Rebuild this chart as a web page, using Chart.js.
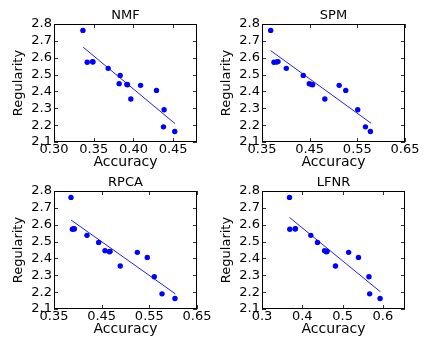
<!DOCTYPE html>
<html><head><meta charset="utf-8">
<script src="https://cdn.jsdelivr.net/npm/chart.js@4.4.0/dist/chart.umd.min.js"></script>
<style>
html,body{margin:0;padding:0;background:#fff;}
body{width:429px;height:346px;position:relative;overflow:hidden;}
.p{position:absolute;width:214px;height:173px;}
canvas{display:block;}
</style></head><body>
<div class="p" style="left:0;top:0"><canvas id="c0" width="214" height="173"></canvas></div>
<div class="p" style="left:208px;top:0"><canvas id="c1" width="214" height="173"></canvas></div>
<div class="p" style="left:0;top:167px"><canvas id="c2" width="214" height="173"></canvas></div>
<div class="p" style="left:208px;top:167px"><canvas id="c3" width="214" height="173"></canvas></div>
<script>
// ---- data ----
const regularity = [2.762, 2.573, 2.575, 2.577, 2.537, 2.495, 2.446, 2.442, 2.440, 2.355, 2.436, 2.406, 2.291, 2.190, 2.162];
const accuracyNMF  = [0.3364, 0.3418, 0.3490, 0.3485, 0.3682, 0.3833, 0.3820, 0.3917, 0.3925, 0.3967, 0.4090, 0.4290, 0.4386, 0.4378, 0.4520];
const accuracySPM  = [0.3682, 0.3751, 0.3808, 0.3835, 0.4010, 0.4366, 0.4492, 0.4533, 0.4561, 0.4818, 0.5119, 0.5257, 0.5508, 0.5670, 0.5774];
const accuracyRPCA = [0.3857, 0.3885, 0.3927, 0.3915, 0.4192, 0.4437, 0.4570, 0.4675, 0.4665, 0.4890, 0.5248, 0.5457, 0.5604, 0.5766, 0.6038];
const accuracyLFNR = [0.3683, 0.3690, 0.3824, 0.3830, 0.4212, 0.4378, 0.4554, 0.4615, 0.4600, 0.4824, 0.5151, 0.5395, 0.5655, 0.5673, 0.5932];

const fitAccNMF  = [0.3368, 0.4524];  const fitRegNMF  = [2.662, 2.209];
const fitAccSPM  = [0.3682, 0.5789];  const fitRegSPM  = [2.642, 2.211];
const fitAccRPCA = [0.3857, 0.6045];  const fitRegRPCA = [2.628, 2.190];
const fitAccLFNR = [0.3683, 0.5940];  const fitRegLFNR = [2.643, 2.202];

const panelTitles = ['NMF', 'SPM', 'RPCA', 'LFNR'];
const yTicks = [2.1, 2.2, 2.3, 2.4, 2.5, 2.6, 2.7, 2.8];
const yTickLabels = ['2.1', '2.2', '2.3', '2.4', '2.5', '2.6', '2.7', '2.8'];
const xTicksNMF = [0.30, 0.35, 0.40, 0.45];  const xTickLabelsNMF = ['0.30', '0.35', '0.40', '0.45'];
const xTicksSPM = [0.35, 0.45, 0.55, 0.65];  const xTickLabelsSPM = ['0.35', '0.45', '0.55', '0.65'];
const xTicksRPCA = [0.35, 0.45, 0.55, 0.65]; const xTickLabelsRPCA = ['0.35', '0.45', '0.55', '0.65'];
const xTicksLFNR = [0.3, 0.4, 0.5, 0.6];     const xTickLabelsLFNR = ['0.3', '0.4', '0.5', '0.6'];
const xRanges = [[0.30, 0.48], [0.35, 0.65], [0.35, 0.65], [0.30, 0.655]];

Chart.defaults.font.family = "'DejaVu Sans', sans-serif";
Chart.defaults.color = '#000';

const framePlugin = {
  id: 'frame',
  afterDraw(chart) {
    const {ctx, chartArea: a, scales} = chart;
    ctx.save();
    ctx.strokeStyle = '#000';
    ctx.lineWidth = 1;
    ctx.strokeRect(a.left + 0.5, a.top + 0.5, a.right - a.left - 1, a.bottom - a.top - 1);
    ctx.lineWidth = 0.8;
    ctx.beginPath();
    scales.x.ticks.forEach(t => {
      const px = Math.round(scales.x.getPixelForValue(t.value)) + 0.5;
      ctx.moveTo(px, a.bottom); ctx.lineTo(px, a.bottom - 4);
      ctx.moveTo(px, a.top); ctx.lineTo(px, a.top + 4);
    });
    scales.y.ticks.forEach(t => {
      const py = Math.round(scales.y.getPixelForValue(t.value)) + 0.5;
      ctx.moveTo(a.left, py); ctx.lineTo(a.left + 4, py);
      ctx.moveTo(a.right, py); ctx.lineTo(a.right - 4, py);
    });
    ctx.stroke();
    ctx.restore();
  }
};

function makePanel(id, title, acc, fitAcc, fitReg, xTicks, xLabels, xRange) {
  const pts = acc.map((v, i) => ({x: v, y: regularity[i]}));
  const fit = fitAcc.map((v, i) => ({x: v, y: fitReg[i]}));
  new Chart(document.getElementById(id), {
    type: 'scatter',
    data: {
      datasets: [
        {data: fit, showLine: true, borderColor: '#2020ff', borderWidth: 1, pointRadius: 0, fill: false, order: 2},
        {data: pts, backgroundColor: '#0000ff', borderWidth: 0, pointRadius: 2.7, order: 1}
      ]
    },
    options: {
      responsive: false,
      animation: false,
      events: [],
      layout: {padding: {left: 0, right: 17, top: 0, bottom: 0}},
      plugins: {
        legend: {display: false},
        tooltip: {enabled: false},
        title: {
          display: true, text: title, fullSize: false, color: '#000',
          font: {size: 13, weight: 'normal', lineHeight: 1},
          padding: {top: 9.5, bottom: 1.5}
        }
      },
      scales: {
        x: {
          type: 'linear', min: xRange[0], max: xRange[1],
          grid: {display: false, drawTicks: false}, border: {display: false},
          afterBuildTicks: s => { s.ticks = xTicks.map(v => ({value: v})); },
          afterFit: s => { s.height = 31; },
          ticks: {font: {size: 13, lineHeight: 1.2}, padding: 0, maxRotation: 0, autoSkip: false,
                  callback: (v, i) => xLabels[i]},
          title: {display: true, text: 'Accuracy', font: {size: 14, lineHeight: 1.2}, padding: {top: 0, bottom: 2.6}}
        },
        y: {
          type: 'linear', min: 2.1, max: 2.8,
          grid: {display: false, drawTicks: false}, border: {display: false},
          afterBuildTicks: s => { s.ticks = yTicks.map(v => ({value: v})); },
          afterFit: s => { s.width = 54; },
          ticks: {font: {size: 13, lineHeight: 1.2}, padding: 2, autoSkip: false,
                  callback: (v, i) => yTickLabels[i]},
          title: {display: true, text: 'Regularity', font: {size: 13, lineHeight: 1.2}, padding: {top: 11.2, bottom: 0}}
        }
      }
    },
    plugins: [framePlugin]
  });
}

makePanel('c0', panelTitles[0], accuracyNMF, fitAccNMF, fitRegNMF, xTicksNMF, xTickLabelsNMF, xRanges[0]);
makePanel('c1', panelTitles[1], accuracySPM, fitAccSPM, fitRegSPM, xTicksSPM, xTickLabelsSPM, xRanges[1]);
makePanel('c2', panelTitles[2], accuracyRPCA, fitAccRPCA, fitRegRPCA, xTicksRPCA, xTickLabelsRPCA, xRanges[2]);
makePanel('c3', panelTitles[3], accuracyLFNR, fitAccLFNR, fitRegLFNR, xTicksLFNR, xTickLabelsLFNR, xRanges[3]);
</script>
</body></html>
